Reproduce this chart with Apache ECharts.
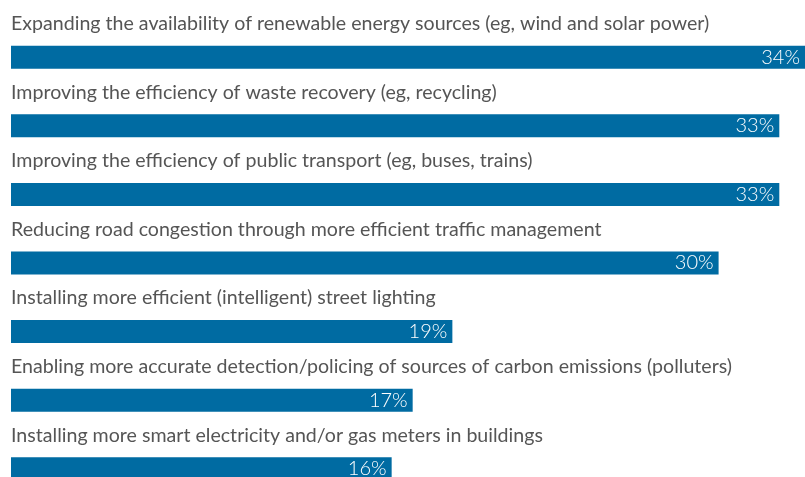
<!DOCTYPE html>
<html><head><meta charset="utf-8">
<script src="https://cdn.jsdelivr.net/npm/echarts@6/dist/echarts.min.js"></script>
<style>html,body{margin:0;padding:0;background:#fff;overflow:hidden}#c{width:805px;height:503px}</style>
</head><body><div id="c"></div>
<script>
const categories = [
  "Expanding the availability of renewable energy sources (eg, wind and solar power)",
  "Improving the efficiency of waste recovery (eg, recycling)",
  "Improving the efficiency of public transport (eg, buses, trains)",
  "Reducing road congestion through more efficient traffic management",
  "Installing more efficient (intelligent) street lighting",
  "Enabling more accurate detection/policing of sources of carbon emissions (polluters)",
  "Installing more smart electricity and/or gas meters in buildings"
];
const values = [34, 32.9, 32.9, 30.3, 18.9, 17.2, 16.3];

const chart = echarts.init(document.getElementById('c'), null, {renderer: 'canvas'});
chart.setOption({
  animation: false,
  grid: {left: 11, right: 0, top: 23, bottom: 0},
  xAxis: {type: 'value', min: 0, max: 34, show: false},
  yAxis: {type: 'category', data: categories, inverse: true, show: false},
  series: [
    {
      type: 'bar', data: values, barWidth: 23,
      itemStyle: {color: '#006BA2'},
      label: {
        show: true, position: [0, -32],
        formatter: p => p.name,
        color: '#555555', fontFamily: 'Lato', fontSize: 19.6
      },
      z: 2
    },
    {
      type: 'bar', data: values, barWidth: 23, barGap: '-100%',
      itemStyle: {color: 'rgba(0,0,0,0)'},
      label: {
        show: true, position: 'insideRight', distance: 5,
        formatter: p => Math.round(p.value) + '%',
        color: '#ffffff', fontFamily: 'Lato', fontWeight: 300, fontSize: 20
      },
      z: 3, silent: true
    }
  ]
});
</script></body></html>
